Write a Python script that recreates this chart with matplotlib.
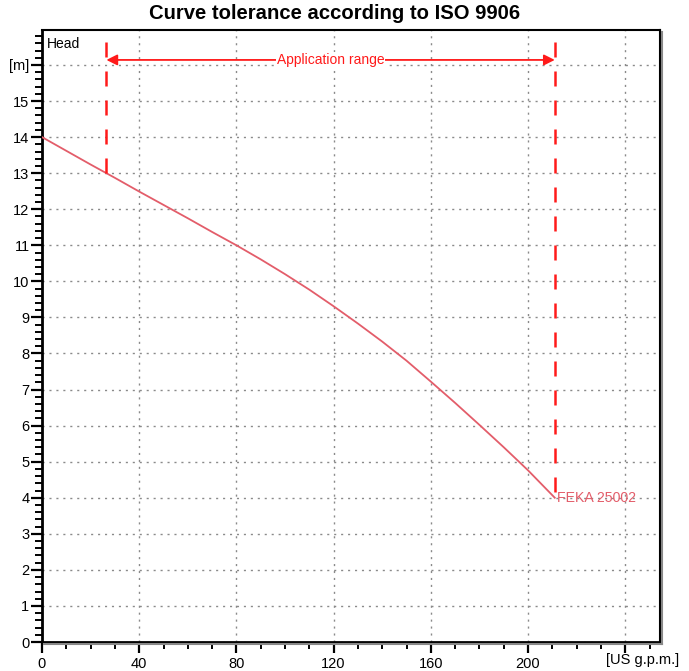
import matplotlib
matplotlib.use('Agg')
import matplotlib.pyplot as plt
import numpy as np
from matplotlib.ticker import MultipleLocator, FixedLocator, FixedFormatter

plt.rcParams['font.family'] = ['Liberation Sans', 'DejaVu Sans']

# Curva (US g.p.m. x m)
vazao = [0, 10, 20, 30, 40, 50, 60, 70, 80, 90, 100, 110, 120, 130, 140, 150,
         160, 170, 180, 190, 200, 211]
altura = [14.0, 13.62, 13.24, 12.87, 12.49, 12.12, 11.75, 11.37, 11.0, 10.61, 10.20,
          9.77, 9.31, 8.83, 8.33, 7.80, 7.22, 6.63, 6.02, 5.40, 4.76, 4.0]

# Faixa de aplicação
faixa_min = 26.5
faixa_max = 211
faixa_topo = 16.65
seta_y = 16.14

xticks = [0, 40, 80, 120, 160, 200, 240]
xlabels = ['0', '40', '80', '120', '160', '200', '']
yticks = list(range(0, 17))
ylabels = [str(v) for v in range(0, 16)] + ['[m]']

cor_curva = '#e35d6a'
cor_faixa = '#ff1a1a'

fig = plt.figure(figsize=(6.89, 6.71), dpi=100)
ax = fig.add_axes([42 / 689, 1 - 642 / 671, 618 / 689, 612 / 671])

ax.plot(vazao, altura, color=cor_curva, linewidth=1.3, zorder=3)

# Linhas verticais tracejadas nos limites
y_min = np.interp(faixa_min, vazao, altura)
y_max = np.interp(faixa_max, vazao, altura)
ax.plot([faixa_min, faixa_min], [faixa_topo, y_min], color=cor_faixa, linewidth=1.8,
        dashes=(6, 5.6), zorder=4)
ax.plot([faixa_max, faixa_max], [faixa_topo, y_max], color=cor_faixa, linewidth=1.8,
        dashes=(6, 5.6), zorder=4)

# Seta dupla
ax.annotate('', xy=(faixa_min, seta_y), xytext=(faixa_max, seta_y),
            arrowprops=dict(arrowstyle='<|-|>', color=cor_faixa, lw=1.3,
                            mutation_scale=16, shrinkA=0, shrinkB=0), zorder=5)
ax.text((faixa_min + faixa_max) / 2, seta_y, 'Application range', color=cor_faixa,
        fontsize=10, ha='center', va='center', zorder=6,
        bbox=dict(facecolor='white', edgecolor='none', pad=0.5))

ax.text(faixa_max + 0.8, y_max, 'FEKA 25002', color=cor_curva, fontsize=10.2,
        ha='left', va='center', zorder=6)
ax.text(2, 16.78, 'Head', fontsize=10, ha='left', va='top')
ax.text(247.3, -0.3, '[US g.p.m.]', fontsize=10.5, ha='center', va='top',
        clip_on=False)

ax.set_xlim(0, 254.3)
ax.set_ylim(0, 16.97)

ax.xaxis.set_major_locator(FixedLocator(xticks))
ax.xaxis.set_major_formatter(FixedFormatter(xlabels))
ax.xaxis.set_minor_locator(MultipleLocator(10))
ax.yaxis.set_major_locator(FixedLocator(yticks))
ax.yaxis.set_major_formatter(FixedFormatter(ylabels))
ax.yaxis.set_minor_locator(MultipleLocator(0.2))

ax.tick_params(axis='both', which='major', direction='out', length=8, width=1.6,
               labelsize=10.5, pad=1)
ax.tick_params(axis='both', which='minor', direction='out', length=5, width=1.4)
ax.tick_params(axis='x', which='major', pad=3)

ax.grid(True, which='major', color='#8a8a8a', linestyle=(0, (1.5, 3.5)), linewidth=1)

for lado in ['left', 'bottom']:
    ax.spines[lado].set_linewidth(2)
for lado in ['top', 'right']:
    ax.spines[lado].set_linewidth(1.5)

# Sombra da moldura
fig.add_artist(plt.Line2D([662 / 689, 662 / 689], [1 - 644 / 671, 1 - 32 / 671],
                          color='#888888', linewidth=1.5))
fig.add_artist(plt.Line2D([44 / 689, 662 / 689], [1 - 644 / 671, 1 - 644 / 671],
                          color='#888888', linewidth=1.5))

fig.suptitle('Curve tolerance according to ISO 9906', fontsize=14.6, fontweight='bold',
             x=334.5 / 689, y=1 - 4 / 671, va='top')

plt.savefig('out.png', dpi=100)
